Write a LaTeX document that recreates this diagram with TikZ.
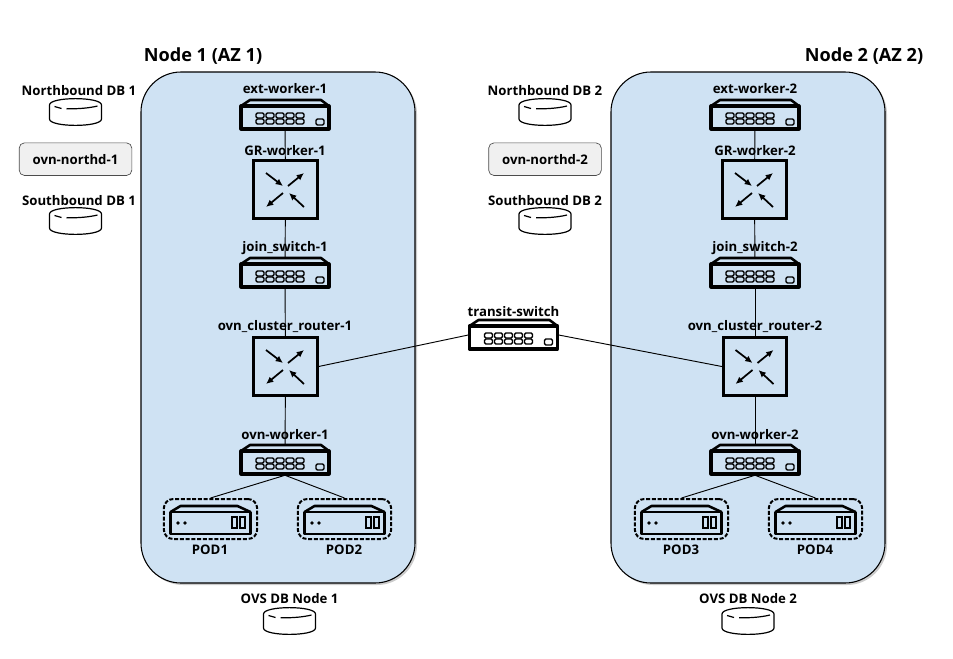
\documentclass[tikz,border=0pt]{standalone}
\usepackage{fontspec}
\setmainfont{Open Sans}
\usetikzlibrary{arrows.meta,positioning}
\definecolor{panelblue}{HTML}{CFE2F3}
\definecolor{boxgray}{HTML}{F0F0F0}
\tikzset{
  lbl/.style={font=\fontsize{9.9}{11}\selectfont\bfseries,inner sep=0pt,yshift=-0.5pt},
  titlelbl/.style={font=\fontsize{13.6}{15}\selectfont\bfseries,inner sep=0pt},
  link/.style={black,line width=0.7pt},
  panel/.style={draw=black,line width=0.8pt,fill=panelblue,rounded corners=30pt},
  panelshade/.style={fill=black!20,draw=none,rounded corners=30pt},
  northd/.style={draw=black!70,line width=0.5pt,fill=boxgray,rounded corners=4pt,
    minimum width=84.5pt,minimum height=24.5pt,lbl},
  switchbox/.style={minimum width=67.5pt,minimum height=22.5pt,inner sep=0pt},
  routerbox/.style={draw=black,line width=2.2pt,minimum width=47.5pt,minimum height=43pt,inner sep=0pt},
  podbox/.style={draw=black,line width=1.5pt,dash pattern=on 3pt off 1.3pt,rounded corners=7pt,
    minimum width=70pt,minimum height=30pt,inner sep=0pt},
  dbbox/.style={minimum width=40pt,minimum height=20pt,inner sep=0pt},
  routerarrow/.style={-{Latex[length=5.5pt,width=5pt]},line width=1.3pt},
}
% switch with its two rows of ports
\newcommand{\switchicon}[3]{
  \node[switchbox] (#1) at (#2,#3) {};
  \begin{scope}[shift={(#2,#3)}]
    \draw[line width=2.3pt,line join=round] (-44,-9) rectangle (44,14);
    \draw[line width=1.9pt,line join=round] (-44,-9) -- (-35,-15) -- (36,-15) -- (44,-9);
    \foreach \px in {-29,-19,-9,1,11} {
      \draw[line width=1pt,rounded corners=1pt] (\px,-2) rectangle ++(8,5);
      \draw[line width=1pt,rounded corners=1pt] (\px,4) rectangle ++(8,5);
    }
    \draw[line width=1pt,rounded corners=1pt] (31,4) rectangle (39,10);
  \end{scope}
}
\newcommand{\routericon}[3]{
  \node[routerbox] (#1) at (#2,#3) {};
  \begin{scope}[shift={(#2,#3)}]
    \draw[routerarrow] (-19.5,-16.5) -- (-2.5,-3.5);
    \draw[routerarrow] (2.5,-3.5) -- (18.5,-16.5);
    \draw[routerarrow] (-2.5,3.5) -- (-19.5,17.5);
    \draw[routerarrow] (18.5,17.5) -- (3.5,3.5);
  \end{scope}
}
\newcommand{\podicon}[3]{
  \node[podbox] (#1) at (#2,#3) {};
  \begin{scope}[shift={(#2,#3)}]
    \draw[line width=2.2pt,line join=round] (-40,-7) rectangle (40,15);
    \draw[line width=1.9pt,line join=round] (-40,-7) -- (-30,-13) -- (27,-13) -- (40,-7);
    \fill (-32.5,4) circle (1.9) (-25.5,4) circle (1.9);
    \draw[line width=1.1pt] (21.5,-2) rectangle (26.5,9) (29.5,-2) rectangle (34.5,9);
  \end{scope}
}
\newcommand{\dbicon}[3]{
  \node[dbbox] (#1) at (#2,#3) {};
  \begin{scope}[shift={(#2,#3)},line width=0.9pt]
    \draw[fill=white] (-26,-7) .. controls (-26,-15.5) and (26,-15.5) .. (26,-7) -- (26,7)
      .. controls (26,15.5) and (-26,15.5) .. (-26,7) -- cycle;
    \draw (-21,-5.5) -- (-14,-3.5);
    \draw (-9,-3.2) .. controls (3,-3) and (14,-4) .. (22,-6);
  \end{scope}
}
\begin{document}
\begin{tikzpicture}[x=0.75pt,y=-0.75pt]
\useasboundingbox (0,0) rectangle (953,658);

% panels
\fill[panelshade] (143,74) rectangle (417,585);
\fill[panelshade] (613,74) rectangle (887,585);
\draw[panel] (141,72) rectangle (415,583);
\draw[panel] (611,72) rectangle (885,583);

% devices of node 1
\switchicon{extone}{285}{115}
\routericon{grone}{285.5}{189.5}
\switchicon{joinone}{285}{273}
\routericon{clusterone}{285.5}{366.5}
\switchicon{workerone}{285}{460}
\podicon{podone}{210.5}{519}
\podicon{podtwo}{344.5}{519}

% devices of node 2
\switchicon{exttwo}{755}{115}
\routericon{grtwo}{754.5}{189.5}
\switchicon{jointwo}{755}{273}
\routericon{clustertwo}{755}{366.5}
\switchicon{workertwo}{755}{460}
\podicon{podthree}{681.5}{519}
\podicon{podfour}{815.5}{519}

\switchicon{transit}{513.5}{335}

% databases
\dbicon{nbone}{75.5}{112}
\dbicon{sbone}{75.5}{221}
\dbicon{ovsone}{289.5}{621}
\dbicon{nbtwo}{545}{112}
\dbicon{sbtwo}{545}{221}
\dbicon{ovstwo}{748}{621}

% links
\draw[link] (extone) -- (grone);
\draw[link] (grone) -- (joinone);
\draw[link] (joinone) -- (clusterone);
\draw[link] (clusterone) -- (workerone);
\draw[link] (workerone.south) -- (podone.north);
\draw[link] (workerone.south) -- (podtwo.north);
\draw[link] (exttwo) -- (grtwo);
\draw[link] (grtwo) -- (jointwo);
\draw[link] (jointwo) -- (clustertwo);
\draw[link] (clustertwo) -- (workertwo);
\draw[link] (workertwo.south) -- (podthree.north);
\draw[link] (workertwo.south) -- (podfour.north);
\draw[link] (clusterone.east) -- (transit.west);
\draw[link] (transit.east) -- (clustertwo.west);

% northd boxes
\node[northd] (northdone) at (75.5,158.5) {ovn-northd-1};
\node[northd] (northdtwo) at (545,158.5) {ovn-northd-2};

% labels
\node[titlelbl] (titleone) at (203,56) {Node 1 (AZ 1)};
\node[titlelbl] (titletwo) at (864,56) {Node 2 (AZ 2)};
\node[lbl] (nbonelbl) at (79,90) {Northbound DB 1};
\node[lbl] (sbonelbl) at (79,200) {Southbound DB 1};
\node[lbl] (nbtwolbl) at (545,90) {Northbound DB 2};
\node[lbl] (sbtwolbl) at (545,200) {Southbound DB 2};
\node[lbl] (extonelbl) at (285,88) {ext-worker-1};
\node[lbl] (gronelbl) at (285,150) {GR-worker-1};
\node[lbl] (joinonelbl) at (285,247) {join\_switch-1};
\node[lbl] (clusteronelbl) at (285,326) {ovn\_cluster\_router-1};
\node[lbl] (workeronelbl) at (285,434) {ovn-worker-1};
\node[lbl] (podonelbl) at (210,549) {POD1};
\node[lbl] (podtwolbl) at (344,549) {POD2};
\node[lbl] (exttwolbl) at (755,88) {ext-worker-2};
\node[lbl] (grtwolbl) at (755,150) {GR-worker-2};
\node[lbl] (jointwolbl) at (755,247) {join\_switch-2};
\node[lbl] (clustertwolbl) at (755,326) {ovn\_cluster\_router-2};
\node[lbl] (workertwolbl) at (755,434) {ovn-worker-2};
\node[lbl] (podthreelbl) at (681,549) {POD3};
\node[lbl] (podfourlbl) at (815,549) {POD4};
\node[lbl] (transitlbl) at (513.5,311) {transit-switch};
\node[lbl] (ovsonelbl) at (289.5,598) {OVS DB Node 1};
\node[lbl] (ovstwolbl) at (748,598) {OVS DB Node 2};
\end{tikzpicture}
\end{document}
